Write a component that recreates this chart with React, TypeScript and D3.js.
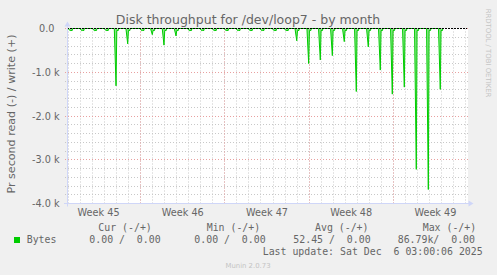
import React from "react";
import * as d3 from "d3";

// ---------- data ----------
const TITLE = "Disk throughput for /dev/loop7 - by month";
const Y_LABEL = "Pr second read (-) / write (+)";
const WATERMARK = "RRDTOOL / TOBI OETIKER";
const FOOTER = "Munin 2.0.73";
const LAST_UPDATE = "2025-12-06T03:00:06Z";
const LAST_UPDATE_TEXT = "Last update: Sat Dec  6 03:00:06 2025";
const PERIOD_DAYS = 33.25;
const Y_DOMAIN: [number, number] = [-4000, 0];
const Y_MAJOR = [0, -1000, -2000, -3000, -4000];
const Y_MINOR_STEP = 200;

// read bytes/s (drawn negative) at each daily peak
const SPIKE_TIMES = [
  "2025-11-03T03:00Z", "2025-11-04T02:20Z", "2025-11-05T03:30Z", "2025-11-06T02:50Z",
  "2025-11-06T22:50Z", "2025-11-07T22:05Z", "2025-11-09T02:00Z", "2025-11-09T23:10Z",
  "2025-11-10T22:30Z", "2025-11-11T22:30Z", "2025-11-13T01:00Z", "2025-11-14T01:40Z",
  "2025-11-15T02:20Z", "2025-11-16T02:10Z", "2025-11-17T01:35Z", "2025-11-18T02:05Z",
  "2025-11-19T01:25Z", "2025-11-20T02:00Z", "2025-11-21T01:55Z", "2025-11-21T23:20Z",
  "2025-11-22T23:10Z", "2025-11-23T22:20Z", "2025-11-24T22:20Z", "2025-11-25T22:10Z",
  "2025-11-26T22:10Z", "2025-11-27T22:05Z", "2025-11-28T22:00Z", "2025-11-29T22:00Z",
  "2025-11-30T21:55Z", "2025-12-01T21:50Z", "2025-12-02T21:50Z", "2025-12-03T21:40Z",
];
const SPIKE_READ = [
  -50, -50, -50, -50,
  -1310, -350, -50, -140,
  -380, -170, -50, -50,
  -50, -50, -50, -50,
  -50, -50, -50, -280,
  -800, -720, -620, -300,
  -1440, -420, -950, -1500,
  -1340, -3220, -3680, -1390,
];
const SPIKE_TAIL = -45;

const LEGEND_LABEL = "Bytes";
const LEGEND_HEADERS = ["Cur (-/+)", "Min (-/+)", "Avg (-/+)", "Max (-/+)"];
const LEGEND_VALUES = ["0.00 /  0.00", "0.00 /  0.00", "52.45 /  0.00", "86.79k/  0.00"];

// ---------- layout ----------
const W = 497;
const H = 275;
const X0 = 67;
const X1 = 467;
const Y0 = 203.5;
const Y1 = 28.5;
const HEADER_X = [98.3, 206.7, 315, 422.7];
const VALUE_X = [89.3, 194.3, 293.3, 397.7];

const FONT = "DejaVu Sans, sans-serif";
const MONO = "DejaVu Sans Mono, monospace";
const FONT_COLOR = "#666666";
const AXIS_COLOR = "#CFD6F8";
const GREEN = "#00CC00";

const crisp = (v: number) => Math.round(v - 0.5) + 0.5;

export default function App() {
  const end = new Date(LAST_UPDATE);
  const start = new Date(end.getTime() - PERIOD_DAYS * 864e5);
  const x = d3.scaleTime().domain([start, end]).range([X0, X1]);
  const y = d3.scaleLinear().domain(Y_DOMAIN).range([Y0, Y1]);

  const HOUR = 3600e3;
  const pts: [number, number][] = [];
  SPIKE_TIMES.forEach((s, i) => {
    const t = new Date(s).getTime();
    pts.push(
      [t - 3.5 * HOUR, 0],
      [t, SPIKE_READ[i]],
      [t + 1.5 * HOUR, SPIKE_TAIL],
      [t + 4.5 * HOUR, SPIKE_TAIL],
      [t + 5 * HOUR, 0]
    );
  });
  const line = d3.line<[number, number]>().x((d) => x(new Date(d[0]))).y((d) => y(d[1]));
  const area = d3
    .area<[number, number]>()
    .x((d) => x(new Date(d[0])))
    .y0(y(0))
    .y1((d) => y(d[1]));

  const days = d3.utcDay.range(d3.utcDay.ceil(start), end);
  const weeks = d3.utcSunday.range(d3.utcSunday.ceil(start), end);
  const weekLabelStarts = d3.utcSunday.range(d3.utcSunday.floor(start), end);
  const halfWeek = 3.5 * 864e5;
  const weekLabels = weekLabelStarts
    .map((w) => new Date(w.getTime() + halfWeek))
    .filter((c) => c >= start && c.getTime() <= end.getTime());
  const fmtWeek = d3.utcFormat("%V");

  const minorY = d3.range(Y_DOMAIN[0], Y_DOMAIN[1], Y_MINOR_STEP).filter((v) => v % 1000 !== 0);

  const fmtY = (v: number) => (v === 0 ? "0.0" : `${(v / 1000).toFixed(1)} k`);

  return (
    <svg width={W} height={H} style={{ display: "block", position: "absolute", left: 0, top: 0 }}>
      <rect x={0} y={0} width={W} height={H} fill="#F0F0F0" />
      <rect x={X0} y={Y1 - 0.5} width={X1 - X0 + 1} height={Y0 - Y1 + 1} fill="#FFFFFF" />

      {/* minor grid */}
      <g stroke="#C8C8C8" strokeWidth={1} strokeDasharray="1,2" fill="none">
        {days.map((d, i) => (
          <line key={"vd" + i} x1={crisp(x(d))} x2={crisp(x(d))} y1={Y1} y2={Y0 + 2} />
        ))}
        {minorY.map((v) => (
          <line key={"hm" + v} x1={X0 - 2} x2={X1 + 1} y1={crisp(y(v))} y2={crisp(y(v))} />
        ))}
      </g>
      {/* major grid */}
      <g stroke="#E8A0A0" strokeWidth={1} strokeDasharray="1,2" fill="none">
        {weeks.map((d, i) => (
          <line key={"vw" + i} x1={crisp(x(d))} x2={crisp(x(d))} y1={Y1} y2={Y0 + 2} />
        ))}
        {Y_MAJOR.map((v) => (
          <line key={"hM" + v} x1={X0 - 2} x2={X1 + 1} y1={crisp(y(v))} y2={crisp(y(v))} />
        ))}
      </g>

      {/* series */}
      <defs>
        <clipPath id="cv">
          <rect x={X0} y={Y1 - 1} width={X1 - X0 + 1} height={Y0 - Y1 + 1} />
        </clipPath>
      </defs>
      <g clipPath="url(#cv)">
        <path d={area(pts) || ""} fill="#55DD55" fillOpacity={0.7} stroke="none" />
        <path d={line(pts) || ""} fill="none" stroke={GREEN} strokeWidth={1} />
      </g>

      {/* zero line */}
      <line x1={X0} x2={X1} y1={crisp(y(0))} y2={crisp(y(0))} stroke="#000" strokeWidth={1} strokeDasharray="2,1" />

      {/* axes */}
      <line x1={X0 - 3} x2={X1 + 2} y1={Y0} y2={Y0} stroke={AXIS_COLOR} strokeWidth={1} />
      <path d={`M${X1 + 1.5},${Y0 - 3}L${X1 + 6.5},${Y0}L${X1 + 1.5},${Y0 + 3}Z`} fill={AXIS_COLOR} />
      <line x1={X0 + 0.5} x2={X0 + 0.5} y1={Y0 + 3} y2={Y1 - 2} stroke={AXIS_COLOR} strokeWidth={1} />
      <path d={`M${X0 - 2.5},${Y1 - 2}L${X0 + 0.5},${Y1 - 7}L${X0 + 3.5},${Y1 - 2}Z`} fill={AXIS_COLOR} />

      {/* y tick labels */}
      <g fontFamily={FONT} fontSize={9.7} fill={FONT_COLOR} textAnchor="end">
        {Y_MAJOR.map((v) => (
          <text key={"yl" + v} x={v === 0 ? 54.5 : 59.5} y={y(v) + 3.5}>
            {fmtY(v)}
          </text>
        ))}
      </g>
      {/* x labels */}
      <g fontFamily={FONT} fontSize={9.7} fill={FONT_COLOR} textAnchor="middle">
        {weekLabels.map((c, i) => (
          <text key={"xl" + i} x={x(c)} y={216}>
            {"Week " + fmtWeek(c)}
          </text>
        ))}
      </g>

      {/* title */}
      <text x={248} y={24} fontFamily={FONT} fontSize={12.5} fill={FONT_COLOR} textAnchor="middle">
        {TITLE}
      </text>
      {/* y axis label */}
      <text
        transform={`translate(15,${(Y0 + Y1) / 2 - 2}) rotate(-90)`}
        fontFamily={FONT}
        fontSize={11.1}
        fill={FONT_COLOR}
        textAnchor="middle"
      >
        {Y_LABEL}
      </text>
      {/* watermark */}
      <text
        transform={`translate(485.5,53) rotate(90)`}
        fontFamily={FONT}
        fontSize={6.9}
        fill="#C4C4C4"
        textAnchor="middle"
      >
        {WATERMARK}
      </text>
      <text x={248} y={268} fontFamily={FONT} fontSize={6.9} fill="#C4C4C4" textAnchor="middle">
        {FOOTER}
      </text>

      {/* legend */}
      <rect x={14} y={237} width={6} height={6} fill={GREEN} />
      <g fontFamily={MONO} fontSize={9.9} fill={FONT_COLOR} style={{ whiteSpace: "pre" }}>
        {LEGEND_HEADERS.map((h, i) => (
          <text key={"lh" + i} x={HEADER_X[i]} y={231} xmlSpace="preserve">
            {h}
          </text>
        ))}
        <text x={26.7} y={243}>
          {LEGEND_LABEL}
        </text>
        {LEGEND_VALUES.map((v, i) => (
          <text key={"lv" + i} x={VALUE_X[i]} y={243} xmlSpace="preserve">
            {v}
          </text>
        ))}
        <text x={482.7} y={255} textAnchor="end" xmlSpace="preserve">
          {LAST_UPDATE_TEXT}
        </text>
      </g>
    </svg>
  );
}
